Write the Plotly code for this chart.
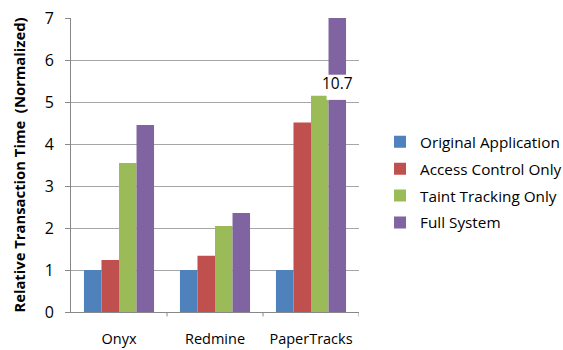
import plotly.graph_objects as go

categories = ["Onyx", "Redmine", "PaperTracks"]
series_names = ["Original Application", "Access Control Only", "Taint Tracking Only", "Full System"]
original = [1.0, 1.0, 1.0]
access = [1.24, 1.34, 4.51]
taint = [3.55, 2.05, 5.15]
full = [4.45, 2.36, 10.7]
colors = ["#4F81BD", "#C0504D", "#9BBB59", "#8064A2"]
y_ticks = [0, 1, 2, 3, 4, 5, 6, 7]
y_max = 7

font = "Open Sans, Liberation Sans, sans-serif"
bargap = 0.27

fig = go.Figure()
for i, (name, vals) in enumerate(zip(series_names, [original, access, taint, full])):
    fig.add_trace(go.Bar(
        x=list(range(len(categories))), y=vals, name=name,
        marker=dict(color=colors[i], line=dict(width=0)),
        legendgroup=name, cliponaxis=True,
    ))

# break marker on the clipped bar
n_series = 4
bw = (1 - bargap) / n_series
idx = 2
x0 = idx - (1 - bargap) / 2 + 3 * bw
x1 = x0 + bw
fig.add_shape(type="rect", xref="x", yref="y", x0=x0 - 0.02, x1=x1 + 0.01,
              y0=5.05, y1=5.65, fillcolor="white", line=dict(width=0), layer="above")
fig.add_annotation(x=(x0 + x1) / 2, y=5.45, xref="x", yref="y", text=str(full[2]),
                   showarrow=False, font=dict(family=font, size=15.5, color="black"),
                   bgcolor="rgba(255,255,255,0)")

fig.update_layout(
    width=563, height=350,
    margin=dict(l=71, r=204, t=18, b=38, autoexpand=False),
    plot_bgcolor="white", paper_bgcolor="white",
    barmode="group", bargap=bargap, bargroupgap=0,
    font=dict(family=font, size=14, color="black"),
    showlegend=True,
    legend=dict(x=1.073, y=0.635, xanchor="left", yanchor="top",
                traceorder="grouped", tracegroupgap=4,
                font=dict(family=font, size=15.3),
                itemwidth=30),
    xaxis=dict(tickmode="array", tickvals=list(range(len(categories))), ticktext=categories,
               range=[-0.5, len(categories) - 0.5], automargin=False,
               showline=True, linecolor="#888888", linewidth=1,
               ticks="", showgrid=False, zeroline=False, ticklabelstandoff=14,
               tickfont=dict(family=font, size=14.5)),
    yaxis=dict(range=[0, y_max], tickvals=y_ticks, showline=True, linecolor="#888888",
               linewidth=1, ticks="outside", ticklen=5, tickcolor="#888888",
               showgrid=True, gridcolor="#a6a6a6", gridwidth=1, zeroline=False,
               automargin=False, ticklabelstandoff=8,
               tickfont=dict(family=font, size=16),
               title=dict(text="<b>Relative Transaction Time  (Normalized)</b>",
                          font=dict(family=font, size=14.8), standoff=15)),
)

# category separator tick marks on x-axis
for b in [0.5, 1.5, 2.5]:
    fig.add_shape(type="line", xref="x", yref="paper", x0=b, x1=b, y0=0, y1=-0.015,
                  line=dict(color="#888888", width=1))

fig.write_html("out.html")
